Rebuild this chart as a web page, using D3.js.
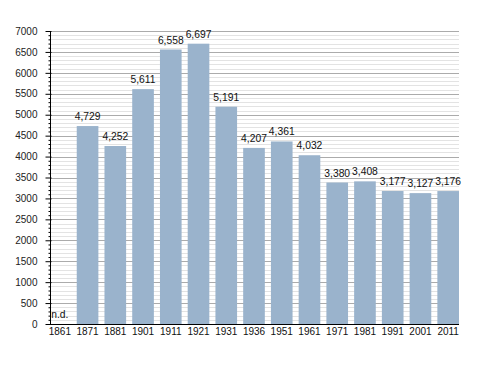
<!DOCTYPE html>
<html><head><meta charset="utf-8">
<script src="https://cdn.jsdelivr.net/npm/d3@7"></script>
<style>body{margin:0;background:#fff}svg{display:block}text{font-family:"Liberation Sans",Arial,sans-serif}</style>
</head><body>
<svg id="c" width="488" height="373"></svg>
<script>
const years = ["1861","1871","1881","1901","1911","1921","1931","1936","1951","1961","1971","1981","1991","2001","2011"];
const population = [null,4729,4252,5611,6558,6697,5191,4207,4361,4032,3380,3408,3177,3127,3176];
const yTicks = [0,500,1000,1500,2000,2500,3000,3500,4000,4500,5000,5500,6000,6500,7000];
const missingLabel = "n.d.";

const svg = d3.select("#c");
const pL = 50, pR = 459, pT = 31, pB = 324;
const x = d3.scaleBand().domain(years).range([49, 459]).paddingInner(0.22).paddingOuter(0);
const y = d3.scaleLinear().domain([0,7000]).range([pB, pT]);

const minor = d3.range(0, 7001, 100).filter(v => v % 500 !== 0);
svg.append("g").selectAll("line").data(minor).join("line")
  .attr("x1", pL).attr("x2", pR)
  .attr("y1", d => Math.round(y(d)) + 0.5).attr("y2", d => Math.round(y(d)) + 0.5)
  .attr("stroke", "#e3e3e3").attr("stroke-width", 1);
svg.append("g").selectAll("line").data(yTicks.filter(d=>d>0)).join("line")
  .attr("x1", pL).attr("x2", pR)
  .attr("y1", d => Math.round(y(d)) + 0.5).attr("y2", d => Math.round(y(d)) + 0.5)
  .attr("stroke", "#ababab").attr("stroke-width", 1);

svg.append("g").selectAll("rect").data(years.map((yr,i)=>({yr, v: population[i]})).filter(d=>d.v!=null)).join("rect")
  .attr("x", d => x(d.yr)).attr("width", x.bandwidth())
  .attr("y", d => y(d.v)).attr("height", d => pB - y(d.v))
  .attr("fill", "#9ab3cc");

const fmt = d3.format(",");
svg.append("g").selectAll("text").data(years.map((yr,i)=>({yr, v: population[i]}))).join("text")
  .attr("x", d => x(d.yr) + x.bandwidth()/2)
  .attr("y", d => d.v == null ? pB - 6 : y(d.v) - 6)
  .attr("text-anchor", "middle").attr("font-size", 10.3).attr("fill", "#111")
  .text(d => d.v == null ? missingLabel : fmt(d.v));

// left axis
const yAxis = d3.axisLeft(y).tickValues(yTicks).tickSize(5).tickPadding(8).tickFormat(d3.format("d"));
const ga = svg.append("g").attr("transform", `translate(${pL + 0.5},0)`).call(yAxis);
ga.select(".domain").remove();
ga.selectAll(".tick line").attr("stroke", "#000").attr("x2", -5).attr("x1", 1);
ga.selectAll(".tick text").attr("font-size", 10).attr("fill", "#222").attr("font-family", '"Liberation Sans",Arial,sans-serif');
const minorAx = d3.axisLeft(y).tickValues(minor).tickSize(2).tickFormat("");
const gm = svg.append("g").attr("transform", `translate(${pL + 0.5},0)`).call(minorAx);
gm.select(".domain").remove();
gm.selectAll(".tick line").attr("stroke", "#000");
svg.append("line").attr("x1", pL + 0.5).attr("x2", pL + 0.5).attr("y1", pT).attr("y2", pB)
  .attr("stroke", "#000");

// bottom axis
const xAxis = d3.axisBottom(x).tickSize(0).tickPadding(4);
const gx = svg.append("g").attr("transform", `translate(0,${pB})`).call(xAxis);
gx.select(".domain").remove();
gx.selectAll(".tick text").attr("font-size", 10).attr("fill", "#111").attr("font-family", '"Liberation Sans",Arial,sans-serif');
svg.append("line").attr("x1", 46).attr("x2", pR).attr("y1", pB + 0.5).attr("y2", pB + 0.5)
  .attr("stroke", "#000");
</script>
</body></html>
